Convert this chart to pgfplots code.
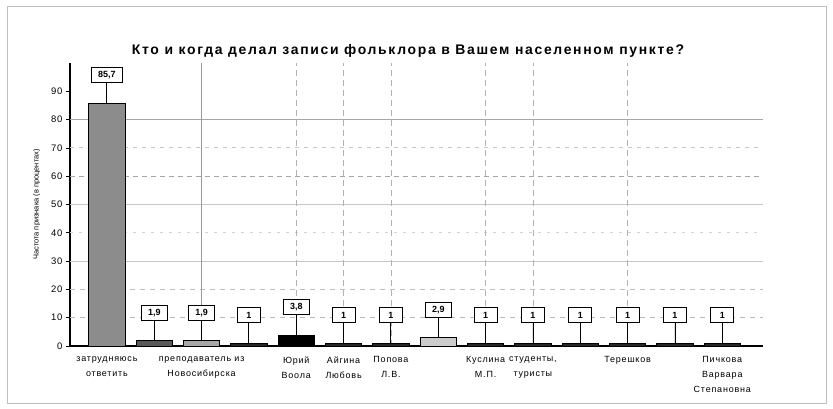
\documentclass[border=0pt]{standalone}
\usepackage{fontspec}
\setmainfont{Liberation Sans}
\newfontfamily\titlefont[LetterSpace=12]{Liberation Sans}
\newfontfamily\labfont[LetterSpace=9]{Liberation Sans}
\usepackage{pgfplots}
\pgfplotsset{compat=1.18}
\pgfplotsset{
  mybar/.style={
    ybar, bar shift=0pt, bar width=36.5bp, draw=black, line width=0.8bp,
    /pgfplots/error bars/y dir=plus, /pgfplots/error bars/y fixed=7.07,
    /pgfplots/error bars/error mark=none,
    /pgfplots/error bars/error bar style={black, line width=0.9bp},
  },
}
\tikzset{vgrid/.style={gray!60, line width=0.8bp, dash pattern=on 6bp off 4bp}}
\begin{document}
\begin{tikzpicture}
\useasboundingbox (0,0) rectangle (833bp,409bp);
\fill[white] (0,0) rectangle (833bp,409bp);
\draw[gray!50, line width=0.8bp] (7bp,6bp) rectangle (826bp,403bp);
\node[font=\titlefont\bfseries\fontsize{14}{16}\selectfont] at (408bp,358bp) {Кто и когда делал записи фольклора в Вашем населенном пункте?};
\begin{axis}[
  at={(70bp,63bp)}, anchor=south west,
  scale only axis, width=693bp, height=283bp,
  xmin=-0.78, xmax=13.86, ymin=0, ymax=100,
  axis x line*=bottom, axis y line*=left,
  x axis line style={line width=1.2bp},
  y axis line style={line width=1.6bp},
  ytick={0,10,...,90},
  ytick pos=left, tick align=outside,
  ytick style={black, line width=0.6bp},
  major tick length=4bp,
  xtick={0,...,13},
  xtick style={draw=none},
  xticklabels={
    {затрудняюсь\\ответить}, {}, {преподаватель из\\Новосибирска}, {},
    {Юрий\\Воола}, {Айгина\\Любовь}, {Попова\\Л.В.}, {},
    {Куслина\\М.П.}, {студенты,\\туристы}, {}, {Терешков}, {},
    {Пичкова\\Варвара\\Степановна}},
  xticklabel style={align=center, font=\labfont\fontsize{9}{15}\selectfont, yshift=-3bp},
  yticklabel style={font=\labfont\fontsize{9.5}{10}\selectfont},
  /pgf/number format/assume math mode=true,
  ylabel={Частота признака (в процентах)},
  ylabel style={font=\fontsize{7.5}{8}\selectfont, at={(axis description cs:-0.048,0.5)}, anchor=center},
  point meta=explicit symbolic,
  nodes near coords,
  every node near coord/.append style={draw=black, fill=white, line width=1bp,
     anchor=south, yshift=20bp, font=\bfseries\fontsize{9}{10}\selectfont,
     inner xsep=7bp, inner ysep=2bp, minimum height=15bp, minimum width=23bp},
]
  \draw[gray!70, line width=0.9bp] (axis cs:-0.78,80) -- (axis cs:13.86,80);
  \draw[gray!45, line width=0.9bp] (axis cs:-0.78,50) -- (axis cs:13.86,50);
  \draw[gray!45, line width=0.9bp] (axis cs:-0.78,30) -- (axis cs:13.86,30);
  \draw[gray!70, line width=0.8bp, dash pattern=on 5bp off 4bp] (axis cs:-0.78,60) -- (axis cs:13.86,60);
  \draw[gray!45, line width=0.8bp, dash pattern=on 4bp off 5bp] (axis cs:-0.78,70) -- (axis cs:13.86,70);
  \draw[gray!35, line width=0.8bp, dash pattern=on 3bp off 6bp] (axis cs:-0.78,40) -- (axis cs:13.86,40);
  \draw[gray!50, line width=0.8bp, dash pattern=on 5bp off 5bp] (axis cs:-0.78,20) -- (axis cs:13.86,20);
  \draw[gray!55, line width=0.8bp, dash pattern=on 5bp off 5bp] (axis cs:-0.78,10) -- (axis cs:13.86,10);
  \draw[gray!80, line width=0.8bp] (axis cs:2,0) -- (axis cs:2,100);
  \draw[vgrid] (axis cs:4,0) -- (axis cs:4,100);
  \draw[vgrid] (axis cs:5,0) -- (axis cs:5,100);
  \draw[vgrid] (axis cs:6,0) -- (axis cs:6,100);
  \draw[vgrid] (axis cs:8,0) -- (axis cs:8,100);
  \draw[vgrid] (axis cs:9,0) -- (axis cs:9,100);
  \draw[vgrid] (axis cs:11,0) -- (axis cs:11,100);
\addplot[mybar, fill=black!45] coordinates {(0,85.7) [85,7]};
\addplot[mybar, fill=black!65] coordinates {(1,1.9) [1,9]};
\addplot[mybar, fill=black!35] coordinates {(2,1.9) [1,9]};
\addplot[mybar, fill=black!85] coordinates {(3,0.95) [1] (5,0.95) [1] (6,0.95) [1] (8,0.95) [1] (9,0.95) [1] (10,0.95) [1] (11,0.95) [1] (12,0.95) [1] (13,0.95) [1]};
\addplot[mybar, fill=black] coordinates {(4,3.8) [3,8]};
\addplot[mybar, fill=black!20] coordinates {(7,2.9) [2,9]};
\end{axis}
\end{tikzpicture}
\end{document}
